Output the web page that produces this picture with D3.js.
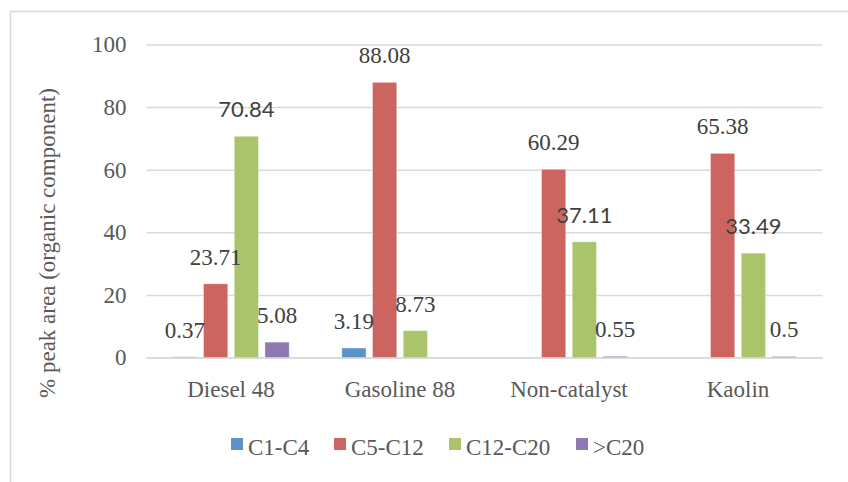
<!DOCTYPE html>
<html>
<head>
<meta charset="utf-8">
<script src="https://cdn.jsdelivr.net/npm/d3@7"></script>
</head>
<body style="margin:0">
<svg id="chart" width="848" height="482"></svg>
<script>
// Share of GC-MS peak area by carbon-number range for each fuel / sample
const categories = ["Diesel 48", "Gasoline 88", "Non-catalyst", "Kaolin"];
const seriesNames = ["C1-C4", "C5-C12", "C12-C20", ">C20"];
const seriesColors = ["#5b93c9", "#cc6560", "#a9c46b", "#9079b0"];
// values per series, one entry per category (null = not present)
const c1c4   = [0.37, 3.19, null, null];
const c5c12  = [23.71, 88.08, 60.29, 65.38];
const c12c20 = [70.84, 8.73, 37.11, 33.49];
const gtC20  = [5.08, null, 0.55, 0.5];
const yTicks = [0, 20, 40, 60, 80, 100];

const seriesValues = [c1c4, c5c12, c12c20, gtC20];
// a few value labels use a sans face in the source workbook
const sansLabel = [
  [false, false, false, false],
  [false, false, false, false],
  [true, false, true, true],
  [false, false, false, false]
];

const SERIF = "Times New Roman";
const SANS = "Lato";

const svg = d3.select("#chart");
const textColor = "#595959";
const gridColor = "#d9d9d9";

// outer chart border
svg.append("rect")
  .attr("x", 10.5).attr("y", 11.5)
  .attr("width", 900).attr("height", 600)
  .attr("fill", "none").attr("stroke", gridColor).attr("stroke-width", 1.5);

const plot = { left: 146.5, right: 822.5, top: 45, bottom: 358 };

const y = d3.scaleLinear().domain([0, 100]).range([plot.bottom, plot.top]);
const x0 = d3.scaleBand().domain(categories)
  .range([plot.left, plot.right])
  .paddingInner(0.273).paddingOuter(0.1365);
const x1 = d3.scaleBand().domain(seriesNames)
  .range([0, x0.bandwidth()])
  .paddingInner(0.21).paddingOuter(0.105);

// gridlines
svg.append("g").selectAll("line")
  .data(yTicks)
  .join("line")
  .attr("x1", plot.left).attr("x2", plot.right)
  .attr("y1", d => y(d)).attr("y2", d => y(d))
  .attr("stroke", gridColor).attr("stroke-width", 1.5);

// tick labels
svg.selectAll("text.ytick")
  .data(yTicks)
  .join("text")
  .attr("class", "ytick")
  .attr("x", plot.left - 20)
  .attr("y", d => y(d))
  .attr("dy", "0.32em")
  .attr("text-anchor", "end")
  .attr("fill", textColor)
  .attr("font-family", SERIF)
  .attr("font-size", 23)
  .text(d => d);

// flat list of data points
const points = [];
categories.forEach((c, ci) => seriesNames.forEach((s, si) => {
  const v = seriesValues[si][ci];
  if (v !== null) points.push({ c, s, si, ci, v });
}));

// bars
svg.append("g").selectAll("rect")
  .data(points)
  .join("rect")
  .attr("x", d => x0(d.c) + x1(d.s))
  .attr("width", x1.bandwidth())
  .attr("y", d => y(d.v))
  .attr("height", d => y(0) - y(d.v))
  .attr("fill", d => seriesColors[d.si])
  .attr("stroke", "#ffffff").attr("stroke-opacity", 0.5).attr("stroke-width", 0.75);

// zero line over bars
svg.append("line")
  .attr("x1", plot.left).attr("x2", plot.right)
  .attr("y1", y(0)).attr("y2", y(0))
  .attr("stroke", gridColor).attr("stroke-width", 1.5);

// value labels, drawn above every bar
svg.selectAll("text.vlabel")
  .data(points)
  .join("text")
  .attr("class", "vlabel")
  .attr("x", d => x0(d.c) + x1(d.s) + x1.bandwidth() / 2)
  .attr("y", d => y(d.v) - 19)
  .attr("text-anchor", "middle")
  .attr("fill", "#404040")
  .attr("font-family", d => sansLabel[d.si][d.ci] ? SANS : SERIF)
  .attr("font-size", d => sansLabel[d.si][d.ci] ? 22 : 23)
  .text(d => String(d.v));

// category axis labels
svg.selectAll("text.cat")
  .data(categories)
  .join("text")
  .attr("class", "cat")
  .attr("x", d => x0(d) + x0.bandwidth() / 2)
  .attr("y", 397)
  .attr("text-anchor", "middle")
  .attr("fill", textColor)
  .attr("font-family", SERIF)
  .attr("font-size", 23)
  .text(d => d);

// y-axis title
svg.append("text")
  .attr("transform", "translate(55,243) rotate(-90)")
  .attr("text-anchor", "middle")
  .attr("fill", textColor)
  .attr("font-family", SERIF)
  .attr("font-size", 23)
  .text("% peak area (organic component)");

// legend
const legendX = [231, 334, 449, 576];
svg.selectAll("rect.key")
  .data(seriesNames)
  .join("rect")
  .attr("class", "key")
  .attr("x", (d, i) => legendX[i]).attr("y", 438)
  .attr("width", 12).attr("height", 12)
  .attr("fill", (d, i) => seriesColors[i]);
svg.selectAll("text.key")
  .data(seriesNames)
  .join("text")
  .attr("class", "key")
  .attr("x", (d, i) => legendX[i] + 17).attr("y", 455)
  .attr("fill", textColor)
  .attr("font-family", SERIF)
  .attr("font-size", 23)
  .text(d => d);
</script>
</body>
</html>
